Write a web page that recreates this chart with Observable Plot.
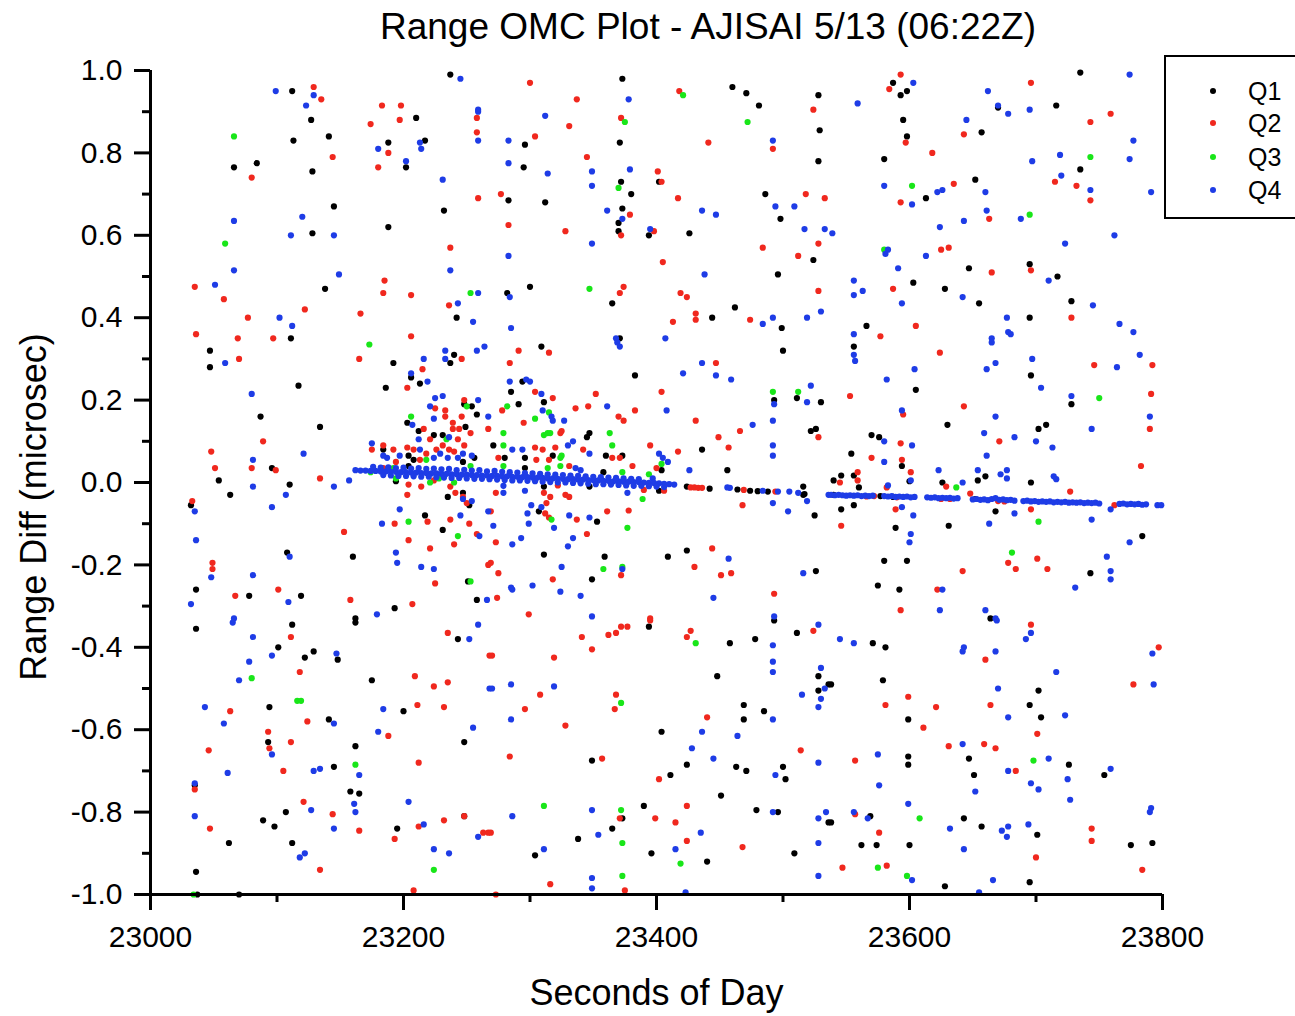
<!DOCTYPE html>
<html>
<head>
<meta charset="utf-8">
<script src="https://cdn.jsdelivr.net/npm/d3@7"></script>
<script src="https://cdn.jsdelivr.net/npm/@observablehq/plot@0.6"></script>
<style>
  html, body { margin: 0; padding: 0; background: #fff; width: 1295px; height: 1016px; overflow: hidden; font-family: "Liberation Sans", Arial, sans-serif; }
  #title { position: relative; height: 55px; }
  #title span { position: absolute; left: 708px; top: 8px; transform: translateX(-50%); white-space: nowrap; font-size: 37px; line-height: 37px; color: #000; }
  #ylabel { position: absolute; left: 34px; top: 507px; transform: translate(-50%, -50%) rotate(-90deg); white-space: nowrap; font-size: 36px; line-height: 36px; color: #000; }
  #legend { position: absolute; left: 1164px; top: 55px; width: 150px; height: 164px; border: 2px solid #000; box-sizing: border-box; background: #fff; }
  .li { position: absolute; left: 0; height: 30px; width: 150px; }
  .li .dot { position: absolute; left: 44px; top: 12px; width: 6px; height: 6px; border-radius: 50%; }
  .li .lab { position: absolute; left: 82px; top: 0; font-size: 25px; line-height: 30px; color: #000; }
</style>
</head>
<body>
<div id="title"><span>Range OMC Plot - AJISAI 5/13 (06:22Z)</span></div>
<div id="chart"></div>
<div id="ylabel">Range Diff (microsec)</div>
<div id="legend"></div>
<script>
// ---- Series names / colours ----
const seriesNames = ["Q1", "Q2", "Q3", "Q4"];
const seriesColors = ["#000000", "#f0281e", "#19e619", "#1e3ce6"];

// ---- Axis ticks ----
const xMajor = [23000, 23200, 23400, 23600, 23800];
const xMinor = [23100, 23300, 23500, 23700];
const yMajor = [-1.0, -0.8, -0.6, -0.4, -0.2, 0.0, 0.2, 0.4, 0.6, 0.8, 1.0];
const yMinor = [-0.9, -0.7, -0.5, -0.3, -0.1, 0.1, 0.3, 0.5, 0.7, 0.9];

// ---- Q1 (black) : [seconds of day, range diff] ----
const q1 = [
[23237,0.99],[23112,0.95],[23127,0.88],[23210,0.885],[23113,0.83],[23141,0.84],[23188,0.825],[23217,0.83],[23066,0.765],[23084,0.775],[23128,0.755],[23202,0.765],[23145,0.67],[23232,0.66],[23128,0.605],[23188,0.62],[23138,0.47],[23242,0.40],[23111,0.35],
[23373,0.98],[23460,0.96],[23471,0.945],[23481,0.915],[23528,0.94],[23529,0.855],[23296,0.82],[23371,0.825],[23528,0.78],[23295,0.765],[23402,0.73],[23372,0.73],[23380,0.70],[23283,0.685],[23312,0.68],[23486,0.70],[23373,0.665],[23370,0.63],[23370,0.61],[23498,0.64],[23394,0.60],[23426,0.605],[23524,0.54],[23496,0.505],[23300,0.475],[23282,0.46],[23365,0.435],[23444,0.40],[23462,0.425],[23499,0.375],[23371,0.35],
[23587,0.97],[23598,0.95],[23593,0.94],[23735,0.995],[23670,0.91],[23716,0.915],[23595,0.88],[23657,0.85],[23598,0.84],[23580,0.785],[23735,0.76],[23652,0.735],[23613,0.69],[23647,0.52],[23695,0.53],[23717,0.50],[23603,0.485],[23628,0.47],[23655,0.435],[23728,0.44],[23695,0.40],[23566,0.38],
[23047,0.32],[23047,0.28],[23192,0.29],[23117,0.235],[23186,0.23],[23087,0.16],[23134,0.135],[23096,0.035],[23054,0.005],[23063,-0.03],[23110,-0.005],[23032,-0.055],[23108,-0.17],[23160,-0.18],[23036,-0.26],[23078,-0.275],[23119,-0.275],[23162,-0.33],
[23240,0.31],[23237,0.29],[23206,0.255],[23213,0.24],[23248,0.19],[23254,0.185],[23258,0.165],[23203,0.145],[23212,0.125],[23249,0.135],[23224,0.115],[23231,0.115],[23184,0.08],[23204,0.065],[23256,0.06],[23208,0.055],[23247,0.05],[23204,0.04],[23194,0.003],[23247,-0.025],[23235,-0.035],[23252,-0.055],[23217,-0.08],[23231,-0.115],[23251,-0.24],[23258,-0.285],[23193,-0.305],
[23309,0.33],[23500,0.32],[23383,0.26],[23294,0.245],[23285,0.22],[23311,0.195],[23493,0.20],[23511,0.205],[23530,0.195],[23291,0.19],[23522,0.125],[23526,0.13],[23347,0.12],[23345,0.11],[23436,0.08],[23271,0.09],[23360,0.065],[23373,0.065],[23404,0.03],[23280,0.06],[23296,0.06],[23318,0.065],[23296,0.035],[23358,0.025],[23456,0.03],[23311,-0.01],[23347,-0.01],[23402,-0.02],[23307,-0.07],[23353,-0.095],[23311,-0.175],[23359,-0.18],[23349,-0.235],[23409,-0.18],[23424,-0.165],[23526,-0.215],[23525,-0.08],[23516,-0.03],[23516,-0.01],
[23424,-0.01],[23442,-0.015],[23464,-0.017],[23474,-0.02],[23480,-0.021],[23488,-0.022],[23517,-0.028],[23540,-0.03],[23577,-0.033],[23587,-0.035],[23652,-0.04],
[23556,0.33],[23696,0.26],[23728,0.19],[23605,0.225],[23630,0.14],[23702,0.13],[23708,0.14],[23570,0.115],[23576,0.11],[23554,0.07],[23594,0.04],[23660,0.015],[23654,0.005],[23626,0.0],[23696,0.0],[23540,0.005],[23546,0.017],[23556,0.017],[23560,-0.012],[23600,0.003],[23546,-0.065],[23556,-0.055],[23589,-0.11],[23631,-0.105],[23668,-0.07],[23784,-0.13],[23580,-0.19],[23598,-0.19],[23575,-0.25],[23592,-0.26],[23664,-0.33],[23743,-0.22],
[23036,-0.355],[23112,-0.345],[23162,-0.34],[23101,-0.40],[23129,-0.41],[23122,-0.425],[23148,-0.43],[23175,-0.48],[23243,-0.38],[23094,-0.545],[23141,-0.575],[23093,-0.63],[23035,-0.735],[23145,-0.69],[23162,-0.64],[23200,-0.555],[23248,-0.63],[23062,-0.875],[23089,-0.82],[23098,-0.835],[23107,-0.80],[23158,-0.75],[23165,-0.755],[23112,-0.875],[23036,-0.945],[23037,-1.0],[23070,-1.0],[23195,-0.84],[23248,-0.81],
[23394,-0.35],[23493,-0.335],[23511,-0.365],[23458,-0.39],[23478,-0.38],[23448,-0.47],[23528,-0.47],[23536,-0.49],[23528,-0.505],[23404,-0.605],[23469,-0.54],[23469,-0.575],[23485,-0.555],[23349,-0.675],[23424,-0.685],[23463,-0.69],[23471,-0.70],[23500,-0.69],[23502,-0.72],[23411,-0.71],[23451,-0.76],[23373,-0.815],[23390,-0.785],[23338,-0.865],[23365,-0.84],[23304,-0.905],[23396,-0.90],[23440,-0.92],[23479,-0.795],[23496,-0.80],[23509,-0.90],[23536,-0.825],
[23571,-0.39],[23581,-0.40],[23538,-0.49],[23579,-0.48],[23702,-0.505],[23695,-0.54],[23599,-0.575],[23704,-0.57],[23599,-0.665],[23599,-0.685],[23647,-0.67],[23651,-0.71],[23726,-0.685],[23754,-0.71],[23569,-0.81],[23538,-0.825],[23643,-0.815],[23657,-0.835],[23701,-0.855],[23562,-0.88],[23574,-0.88],[23600,-0.88],[23775,-0.88],[23792,-0.875],[23628,-0.98],[23695,-0.97]
];

// ---- Q2 (red) ----
const q2 = [
[23129,0.96],[23135,0.93],[23183,0.915],[23198,0.915],[23174,0.87],[23197,0.88],[23258,0.885],[23258,0.85],[23188,0.80],[23080,0.74],[23144,0.79],[23180,0.765],[23259,0.69],[23237,0.57],[23185,0.49],[23035,0.475],[23184,0.46],[23206,0.455],[23058,0.445],[23236,0.43],[23122,0.42],[23166,0.41],[23077,0.40],[23036,0.36],[23069,0.35],[23097,0.35],[23206,0.355],
[23300,0.97],[23337,0.93],[23418,0.95],[23372,0.885],[23524,0.905],[23331,0.865],[23304,0.84],[23441,0.825],[23492,0.81],[23345,0.79],[23401,0.755],[23404,0.73],[23277,0.70],[23417,0.69],[23518,0.70],[23533,0.69],[23379,0.65],[23372,0.60],[23283,0.625],[23328,0.61],[23398,0.61],[23528,0.58],[23484,0.57],[23512,0.55],[23405,0.535],[23374,0.475],[23371,0.46],[23419,0.46],[23424,0.45],[23431,0.41],[23431,0.395],[23413,0.39],[23474,0.395],[23528,0.465],
[23593,0.99],[23584,0.955],[23696,0.97],[23759,0.895],[23743,0.875],[23643,0.845],[23597,0.825],[23618,0.80],[23715,0.73],[23732,0.72],[23635,0.725],[23743,0.685],[23593,0.68],[23663,0.64],[23625,0.565],[23631,0.57],[23665,0.51],[23696,0.515],[23587,0.47],[23728,0.40],[23605,0.38],[23577,0.355],
[23070,0.30],[23165,0.30],[23089,0.10],[23048,0.075],[23051,0.035],[23080,0.035],[23099,0.03],[23134,0.01],[23033,-0.045],[23153,-0.12],[23049,-0.195],[23049,-0.21],[23067,-0.275],[23101,-0.26],[23158,-0.285],
[23246,0.30],[23215,0.275],[23203,0.23],[23248,0.20],[23225,0.18],[23233,0.175],[23233,0.16],[23246,0.16],[23239,0.145],[23216,0.13],[23239,0.13],[23244,0.13],[23253,0.12],[23267,0.13],[23221,0.105],[23243,0.105],[23248,0.09],[23175,0.08],[23184,0.09],[23192,0.08],[23203,0.085],[23208,0.08],[23218,0.07],[23226,0.08],[23231,0.09],[23236,0.08],[23240,0.075],[23194,0.05],[23213,0.055],[23184,0.035],[23204,-0.005],[23214,-0.01],[23224,0.005],[23237,-0.01],[23241,-0.025],[23247,-0.035],[23203,-0.03],[23250,-0.05],[23219,-0.095],[23237,-0.09],[23252,-0.10],[23193,-0.10],[23258,-0.125],[23240,-0.15],[23204,-0.14],[23221,-0.16],[23267,-0.20],[23225,-0.245],[23207,-0.295],
[23291,0.32],[23315,0.315],[23284,0.29],[23447,0.29],[23304,0.22],[23318,0.205],[23352,0.215],[23404,0.22],[23278,0.175],[23336,0.18],[23346,0.185],[23383,0.175],[23370,0.16],[23374,0.15],[23431,0.15],[23295,0.145],[23466,0.125],[23528,0.11],[23325,0.125],[23324,0.12],[23449,0.11],[23457,0.085],[23395,0.09],[23417,0.075],[23304,0.085],[23310,0.08],[23320,0.085],[23342,0.08],[23365,0.06],[23371,0.06],[23275,0.06],[23305,0.055],[23315,0.055],[23331,0.04],[23381,0.04],[23400,0.035],[23273,-0.025],[23311,-0.025],[23322,-0.007],[23328,-0.03],[23331,-0.035],[23316,-0.035],[23313,-0.05],[23390,-0.018],[23406,-0.02],[23312,-0.075],[23315,-0.085],[23337,-0.09],[23361,-0.07],[23378,-0.068],[23269,-0.07],[23273,-0.145],[23345,-0.125],[23269,-0.195],[23372,-0.225],[23318,-0.235],[23275,-0.22],[23274,-0.28],[23299,-0.32],[23395,-0.33],[23444,-0.16],[23430,-0.205],[23451,-0.225],[23459,-0.22],[23493,-0.27],[23468,-0.055],
[23427,-0.012],[23430,-0.012],[23433,-0.013],[23436,-0.013],[23469,-0.018],[23494,-0.022],[23566,-0.034],[23572,-0.033],[23590,-0.036],[23625,-0.04],[23632,-0.04],[23670,-0.045],[23675,-0.046],
[23624,0.315],[23746,0.285],[23792,0.285],[23791,0.215],[23790,0.13],[23783,0.04],[23553,0.21],[23595,0.165],[23643,0.185],[23671,0.10],[23593,0.095],[23570,0.06],[23594,0.055],[23601,0.025],[23629,-0.01],[23648,-0.027],[23727,-0.022],[23545,0.0],[23559,0.025],[23559,0.005],[23582,-0.012],[23546,-0.105],[23589,-0.065],[23696,-0.065],[23762,-0.055],[23678,-0.195],[23684,-0.21],[23701,-0.185],[23709,-0.21],[23642,-0.215],[23622,-0.26],[23593,-0.31],
[23111,-0.375],[23118,-0.46],[23235,-0.365],[23268,-0.42],[23209,-0.47],[23224,-0.495],[23235,-0.485],[23063,-0.555],[23124,-0.58],[23093,-0.605],[23094,-0.645],[23111,-0.63],[23046,-0.65],[23035,-0.745],[23105,-0.70],[23211,-0.54],[23232,-0.545],[23188,-0.615],[23212,-0.68],[23047,-0.84],[23121,-0.775],[23144,-0.805],[23165,-0.845],[23134,-0.94],[23193,-0.865],[23212,-0.835],[23232,-0.82],[23248,-0.81],[23208,-0.99],[23263,-0.85],[23267,-0.85],
[23395,-0.335],[23524,-0.36],[23341,-0.375],[23349,-0.405],[23362,-0.37],[23368,-0.365],[23372,-0.35],[23377,-0.35],[23424,-0.375],[23427,-0.36],[23319,-0.425],[23270,-0.42],[23308,-0.515],[23296,-0.55],[23328,-0.59],[23368,-0.515],[23367,-0.55],[23440,-0.57],[23284,-0.665],[23357,-0.67],[23514,-0.65],[23402,-0.72],[23371,-0.815],[23399,-0.815],[23415,-0.825],[23424,-0.785],[23269,-0.85],[23424,-0.87],[23468,-0.885],[23316,-0.975],[23375,-0.99],[23273,-1.0],
[23696,-0.345],[23660,-0.43],[23797,-0.40],[23777,-0.49],[23599,-0.52],[23581,-0.54],[23621,-0.545],[23664,-0.54],[23611,-0.595],[23701,-0.61],[23631,-0.64],[23659,-0.635],[23668,-0.645],[23557,-0.675],[23684,-0.70],[23557,-0.805],[23576,-0.85],[23744,-0.84],[23744,-0.87],[23700,-0.91],[23547,-0.935],[23582,-0.93],[23784,-0.94]
];

// ---- Q3 (green) ----
const q3 = [
[23066,0.84],[23059,0.58],[23253,0.46],
[23421,0.94],[23375,0.875],[23472,0.875],[23370,0.715],[23347,0.47],
[23743,0.79],[23602,0.72],[23695,0.65],[23580,0.565],
[23173,0.335],
[23250,0.185],[23206,0.16],[23234,0.105],[23218,0.055],[23253,0.04],[23174,0.025],[23192,0.035],[23194,0.01],[23221,0.0],[23228,0.01],[23240,0.0],[23204,-0.095],[23243,-0.13],[23253,-0.24],
[23492,0.22],[23512,0.22],[23282,0.185],[23315,0.17],[23304,0.155],[23279,0.12],[23311,0.115],[23314,0.12],[23316,0.12],[23363,0.12],[23365,0.09],[23279,0.09],[23324,0.06],[23325,0.065],[23279,0.04],[23314,0.035],[23324,0.04],[23373,0.025],[23394,0.02],[23404,0.045],[23389,-0.04],[23317,-0.09],[23377,-0.11],[23358,-0.21],[23373,-0.205],
[23750,0.205],[23637,-0.012],[23702,-0.095],[23681,-0.17],
[23080,-0.475],[23116,-0.53],[23119,-0.53],[23162,-0.685],[23224,-0.94],[23034,-1.0],
[23431,-0.39],[23372,-0.535],[23311,-0.785],[23372,-0.795],[23373,-0.875],[23419,-0.925],[23373,-0.955],
[23698,-0.675],[23608,-0.815],[23575,-0.935],[23598,-0.955]
];

// ---- Q4 (blue), scattered returns ----
const q4 = [
[23245,0.98],[23099,0.95],[23129,0.94],[23123,0.915],[23259,0.905],[23259,0.9],[23259,0.83],[23180,0.81],[23213,0.825],[23214,0.81],[23202,0.78],[23231,0.735],[23120,0.645],[23066,0.635],[23111,0.60],[23145,0.60],[23066,0.515],[23237,0.515],[23149,0.505],[23051,0.48],[23259,0.46],[23243,0.435],[23102,0.40],[23112,0.38],[23255,0.39],
[23378,0.93],[23312,0.89],[23283,0.83],[23492,0.83],[23283,0.775],[23314,0.75],[23349,0.755],[23379,0.76],[23349,0.72],[23494,0.67],[23509,0.67],[23436,0.66],[23447,0.65],[23361,0.66],[23373,0.64],[23395,0.615],[23517,0.615],[23533,0.615],[23349,0.58],[23283,0.55],[23438,0.505],[23284,0.45],[23484,0.385],[23492,0.40],[23519,0.40],[23530,0.415],[23285,0.375],[23368,0.35],[23407,0.35],
[23603,0.97],[23559,0.92],[23774,0.99],[23662,0.95],[23670,0.915],[23678,0.895],[23695,0.905],[23645,0.88],[23777,0.83],[23697,0.78],[23719,0.795],[23774,0.785],[23720,0.745],[23580,0.72],[23622,0.705],[23626,0.71],[23660,0.705],[23743,0.71],[23791,0.705],[23602,0.675],[23661,0.66],[23688,0.64],[23643,0.635],[23624,0.62],[23539,0.605],[23762,0.60],[23723,0.58],[23583,0.565],[23581,0.555],[23613,0.55],[23591,0.52],[23710,0.49],[23556,0.49],[23556,0.455],[23563,0.465],[23594,0.435],[23642,0.45],[23745,0.43],[23677,0.40],[23766,0.385],[23777,0.365],[23556,0.36],[23678,0.365],[23680,0.36],[23665,0.35],
[23059,0.29],[23080,0.215],[23121,0.07],[23081,0.055],[23081,-0.01],[23107,-0.03],[23145,-0.01],[23157,0.005],[23035,-0.07],[23096,-0.06],[23036,-0.14],[23110,-0.18],[23048,-0.23],[23081,-0.225],[23109,-0.29],[23032,-0.295],[23066,-0.33],
[23216,0.30],[23233,0.32],[23233,0.30],[23258,0.32],[23264,0.33],[23206,0.265],[23219,0.245],[23225,0.205],[23231,0.21],[23259,0.20],[23221,0.185],[23224,0.155],[23267,0.16],[23207,0.14],[23212,0.105],[23236,0.11],[23175,0.095],[23197,0.065],[23213,0.08],[23229,0.07],[23247,0.07],[23254,0.065],[23187,0.06],[23184,0.065],[23224,0.06],[23235,0.06],[23243,0.06],[23247,-0.04],[23254,-0.045],[23267,-0.07],[23197,-0.065],[23245,-0.08],[23183,-0.10],[23260,-0.13],[23194,-0.17],[23195,-0.195],[23214,-0.205],[23224,-0.21],[23266,-0.285],[23179,-0.32],
[23369,0.34],[23371,0.33],[23436,0.29],[23421,0.265],[23447,0.26],[23459,0.25],[23284,0.245],[23297,0.25],[23300,0.245],[23309,0.215],[23493,0.19],[23522,0.235],[23519,0.195],[23310,0.175],[23317,0.16],[23318,0.15],[23327,0.15],[23361,0.185],[23408,0.175],[23492,0.15],[23476,0.14],[23334,0.10],[23330,0.09],[23492,0.09],[23492,0.065],[23286,0.08],[23294,0.08],[23347,0.07],[23402,0.07],[23405,0.06],[23409,0.05],[23336,0.035],[23340,0.03],[23426,0.03],[23397,0.01],[23279,-0.008],[23279,-0.025],[23296,-0.02],[23377,-0.025],[23301,-0.055],[23309,-0.06],[23298,-0.075],[23319,-0.11],[23331,-0.08],[23347,-0.085],[23271,-0.105],[23299,-0.10],[23293,-0.135],[23286,-0.15],[23334,-0.135],[23330,-0.155],[23325,-0.205],[23373,-0.21],[23285,-0.255],[23286,-0.26],[23302,-0.25],[23324,-0.265],[23340,-0.275],[23349,-0.325],[23457,-0.185],[23445,-0.28],[23493,-0.325],[23516,-0.22],[23492,-0.05],[23504,-0.07],[23519,-0.045],[23536,-0.03],
[23456,-0.012],[23458,-0.013],[23484,-0.02],[23496,-0.022],[23505,-0.022],[23512,-0.025],
[23556,0.31],[23557,0.295],[23665,0.34],[23661,0.275],[23668,0.29],[23697,0.30],[23704,0.23],[23764,0.28],[23782,0.31],[23790,0.16],[23728,0.21],[23744,0.13],[23582,0.25],[23604,0.275],[23594,0.175],[23668,0.16],[23659,0.12],[23683,0.11],[23700,0.10],[23713,0.085],[23580,0.10],[23602,0.09],[23580,0.05],[23661,0.065],[23654,0.03],[23677,0.03],[23672,0.02],[23677,0.01],[23623,0.03],[23642,0.0],[23714,0.015],[23716,0.008],[23583,-0.007],[23601,0.005],[23594,-0.06],[23603,-0.08],[23601,-0.125],[23600,-0.145],[23683,-0.075],[23663,-0.10],[23744,-0.09],[23759,-0.065],[23774,-0.145],[23626,-0.26],[23624,-0.31],[23660,-0.31],[23668,-0.33],[23756,-0.18],[23759,-0.215],[23759,-0.235],[23731,-0.255],
[23065,-0.34],[23081,-0.375],[23096,-0.42],[23147,-0.415],[23078,-0.435],[23070,-0.48],[23252,-0.38],[23259,-0.345],[23043,-0.545],[23058,-0.585],[23145,-0.585],[23096,-0.66],[23061,-0.705],[23035,-0.73],[23129,-0.70],[23134,-0.695],[23165,-0.71],[23184,-0.55],[23180,-0.605],[23255,-0.595],[23035,-0.81],[23127,-0.795],[23145,-0.84],[23161,-0.78],[23162,-0.80],[23118,-0.91],[23122,-0.90],[23204,-0.775],[23216,-0.83],[23224,-0.89],[23236,-0.90],[23259,-0.86],[23268,-0.50],
[23528,-0.345],[23492,-0.395],[23492,-0.435],[23492,-0.46],[23530,-0.45],[23533,-0.50],[23530,-0.525],[23528,-0.545],[23515,-0.515],[23270,-0.50],[23285,-0.49],[23319,-0.495],[23285,-0.575],[23436,-0.605],[23492,-0.575],[23464,-0.615],[23428,-0.645],[23445,-0.67],[23494,-0.71],[23528,-0.68],[23286,-0.81],[23349,-0.795],[23354,-0.855],[23311,-0.89],[23415,-0.89],[23435,-0.85],[23492,-0.80],[23528,-0.815],[23534,-0.80],[23528,-0.875],[23528,-0.955],[23349,-0.96],[23349,-0.985],[23423,-0.995],
[23669,-0.335],[23696,-0.365],[23692,-0.38],[23545,-0.38],[23556,-0.39],[23643,-0.40],[23642,-0.41],[23668,-0.41],[23792,-0.415],[23716,-0.46],[23793,-0.49],[23670,-0.50],[23678,-0.57],[23723,-0.565],[23642,-0.635],[23575,-0.66],[23678,-0.70],[23710,-0.67],[23725,-0.72],[23727,-0.77],[23759,-0.695],[23576,-0.735],[23652,-0.75],[23696,-0.73],[23702,-0.745],[23599,-0.78],[23556,-0.80],[23567,-0.815],[23632,-0.84],[23673,-0.845],[23678,-0.835],[23677,-0.86],[23694,-0.83],[23643,-0.89],[23791,-0.79],[23790,-0.80],[23602,-0.965],[23655,-0.995],[23666,-0.965]
];

// ---- Q4 (blue), dense satellite track, first pass segment ----
const q4TrackA = [
[23162,0.030],[23166,0.029],[23170,0.029],[23174,0.028],[23178,0.028],[23182,0.027],[23186,0.027],[23190,0.026],[23194,0.026],[23198,0.025],[23202,0.025],[23206,0.024],[23210,0.024],[23214,0.023],[23218,0.023],[23222,0.022],[23226,0.022],[23230,0.021],[23234,0.021],[23238,0.020],[23242,0.020],[23246,0.019],[23250,0.019],[23254,0.018],[23258,0.018],[23262,0.017],[23266,0.017],[23270,0.016],[23274,0.016],[23278,0.015],[23282,0.015],[23286,0.014],[23290,0.014],[23294,0.013],[23298,0.013],[23302,0.012],[23306,0.012],[23310,0.011],[23314,0.010],[23318,0.010],[23322,0.009],[23326,0.009],[23330,0.008],[23334,0.008],[23338,0.007],[23342,0.007],[23346,0.006],[23350,0.006],[23354,0.005],[23358,0.004],[23362,0.004],[23366,0.003],[23370,0.003],[23374,0.002],[23378,0.002],[23382,0.001],[23386,0.001],[23390,0.000],[23394,-0.001],[23398,-0.001],[23402,-0.002],[23406,-0.003],[23410,-0.004],[23414,-0.005],
[23176,0.038],[23182,0.036],[23188,0.037],[23194,0.035],[23200,0.036],[23206,0.034],[23212,0.035],[23218,0.033],[23224,0.034],[23230,0.032],[23236,0.033],[23242,0.030],[23248,0.031],[23254,0.029],[23260,0.030],[23266,0.027],[23272,0.028],[23278,0.026],[23284,0.025],[23290,0.024],[23296,0.023],[23302,0.022],[23308,0.021],[23314,0.020],[23320,0.019],[23326,0.018],[23332,0.017],[23338,0.016],[23344,0.015],[23350,0.014],[23356,0.013],[23362,0.012],[23368,0.011],[23374,0.010],[23380,0.009],[23386,0.008],
[23184,0.018],[23190,0.017],[23196,0.016],[23202,0.016],[23208,0.015],[23214,0.014],[23220,0.014],[23226,0.013],[23232,0.012],[23238,0.011],[23244,0.011],[23250,0.010],[23256,0.009],[23262,0.009],[23268,0.008],[23274,0.007],[23280,0.006],[23286,0.005],[23292,0.005],[23298,0.004],[23304,0.003],[23310,0.002],[23316,0.001],[23322,0.000],[23328,0.000],[23334,-0.001],[23340,-0.002],[23346,-0.003],[23352,-0.004],[23358,-0.004],[23364,-0.005],[23370,-0.006],[23376,-0.007],[23382,-0.008],[23388,-0.008],[23394,-0.009],[23400,-0.010],[23406,-0.011]
];

// ---- Q4 (blue), dense satellite track, later segments ----
const q4TrackB = [
[23538,-0.030],[23541,-0.031],[23544,-0.030],[23547,-0.031],[23550,-0.032],[23553,-0.031],[23556,-0.032],[23559,-0.031],[23562,-0.033],[23565,-0.032],[23568,-0.033],[23571,-0.032],
[23580,-0.033],[23583,-0.034],[23586,-0.033],[23589,-0.035],[23592,-0.034],[23595,-0.035],[23598,-0.034],[23601,-0.036],[23604,-0.035],
[23614,-0.036],[23617,-0.037],[23620,-0.036],[23623,-0.038],[23626,-0.037],[23629,-0.038],[23632,-0.037],[23635,-0.039],[23638,-0.038],
[23650,-0.041],[23653,-0.040],[23656,-0.042],[23659,-0.041],[23662,-0.043],[23665,-0.040],[23668,-0.038],[23671,-0.042],[23674,-0.041],[23677,-0.043],[23680,-0.042],[23683,-0.044],
[23690,-0.045],[23693,-0.044],[23696,-0.046],[23699,-0.045],[23702,-0.047],[23705,-0.046],[23708,-0.047],[23711,-0.046],[23714,-0.048],[23717,-0.047],[23720,-0.048],[23723,-0.047],[23726,-0.049],[23729,-0.048],[23732,-0.049],[23735,-0.048],[23738,-0.050],[23741,-0.049],[23744,-0.050],[23747,-0.049],[23750,-0.051],
[23766,-0.052],[23769,-0.051],[23772,-0.053],[23775,-0.052],[23778,-0.053],[23781,-0.052],[23784,-0.054],[23787,-0.053],[23796,-0.055],[23799,-0.055]
];

// ---- Build chart ----
const R = 3.1;
const X = d => d[0], Y = d => d[1];
const fontFam = "'Liberation Sans', Arial, sans-serif";

const chart = Plot.plot({
  width: 1295,
  height: 961,
  marginLeft: 150,
  marginRight: 133,
  marginTop: 15,
  marginBottom: 122,
  style: {fontFamily: fontFam, background: "white", color: "black", overflow: "visible"},
  x: {domain: [xMajor[0], xMajor[xMajor.length - 1]]},
  y: {domain: [yMajor[0], yMajor[yMajor.length - 1]]},
  marks: [
    Plot.dot(q1, {x: X, y: Y, r: R, fill: seriesColors[0], stroke: null}),
    Plot.dot(q2, {x: X, y: Y, r: R, fill: seriesColors[1], stroke: null}),
    Plot.dot(q3, {x: X, y: Y, r: R, fill: seriesColors[2], stroke: null}),
    Plot.dot(q4, {x: X, y: Y, r: R, fill: seriesColors[3], stroke: null}),
    Plot.dot(q4TrackA, {x: X, y: Y, r: R, fill: seriesColors[3], stroke: null}),
    Plot.dot(q4TrackB, {x: X, y: Y, r: R, fill: seriesColors[3], stroke: null}),
    // axis lines
    Plot.ruleX([xMajor[0]], {strokeWidth: 3, stroke: "black"}),
    Plot.ruleY([yMajor[0]], {strokeWidth: 3, stroke: "black"}),
    // x ticks
    Plot.axisX(xMajor, {anchor: "bottom", tickSize: 16, tickPadding: 15, strokeWidth: 3, fontSize: 30, tickFormat: d => String(d), label: null}),
    Plot.axisX(xMinor, {anchor: "bottom", tickSize: 8, strokeWidth: 3, tickFormat: () => "", label: null}),
    Plot.axisX([], {anchor: "bottom", tickSize: 0, fontSize: 36, label: "Seconds of Day", labelAnchor: "center", labelArrow: "none", labelOffset: 110}),
    // y ticks
    Plot.axisY(yMajor, {anchor: "left", tickSize: 16, tickPadding: 12, strokeWidth: 3, fontSize: 30, tickFormat: d => d.toFixed(1), label: null}),
    Plot.axisY(yMinor, {anchor: "left", tickSize: 8, strokeWidth: 3, tickFormat: () => "", label: null})
  ]
});
document.getElementById("chart").appendChild(chart);

// ---- Legend ----
const legend = document.getElementById("legend");
const legendTops = [19, 51, 85, 118];
seriesNames.forEach((name, i) => {
  const row = document.createElement("div");
  row.className = "li";
  row.style.top = legendTops[i] + "px";
  const dot = document.createElement("div");
  dot.className = "dot";
  dot.style.background = seriesColors[i];
  const lab = document.createElement("div");
  lab.className = "lab";
  lab.textContent = name;
  row.appendChild(dot);
  row.appendChild(lab);
  legend.appendChild(row);
});
</script>
</body>
</html>
